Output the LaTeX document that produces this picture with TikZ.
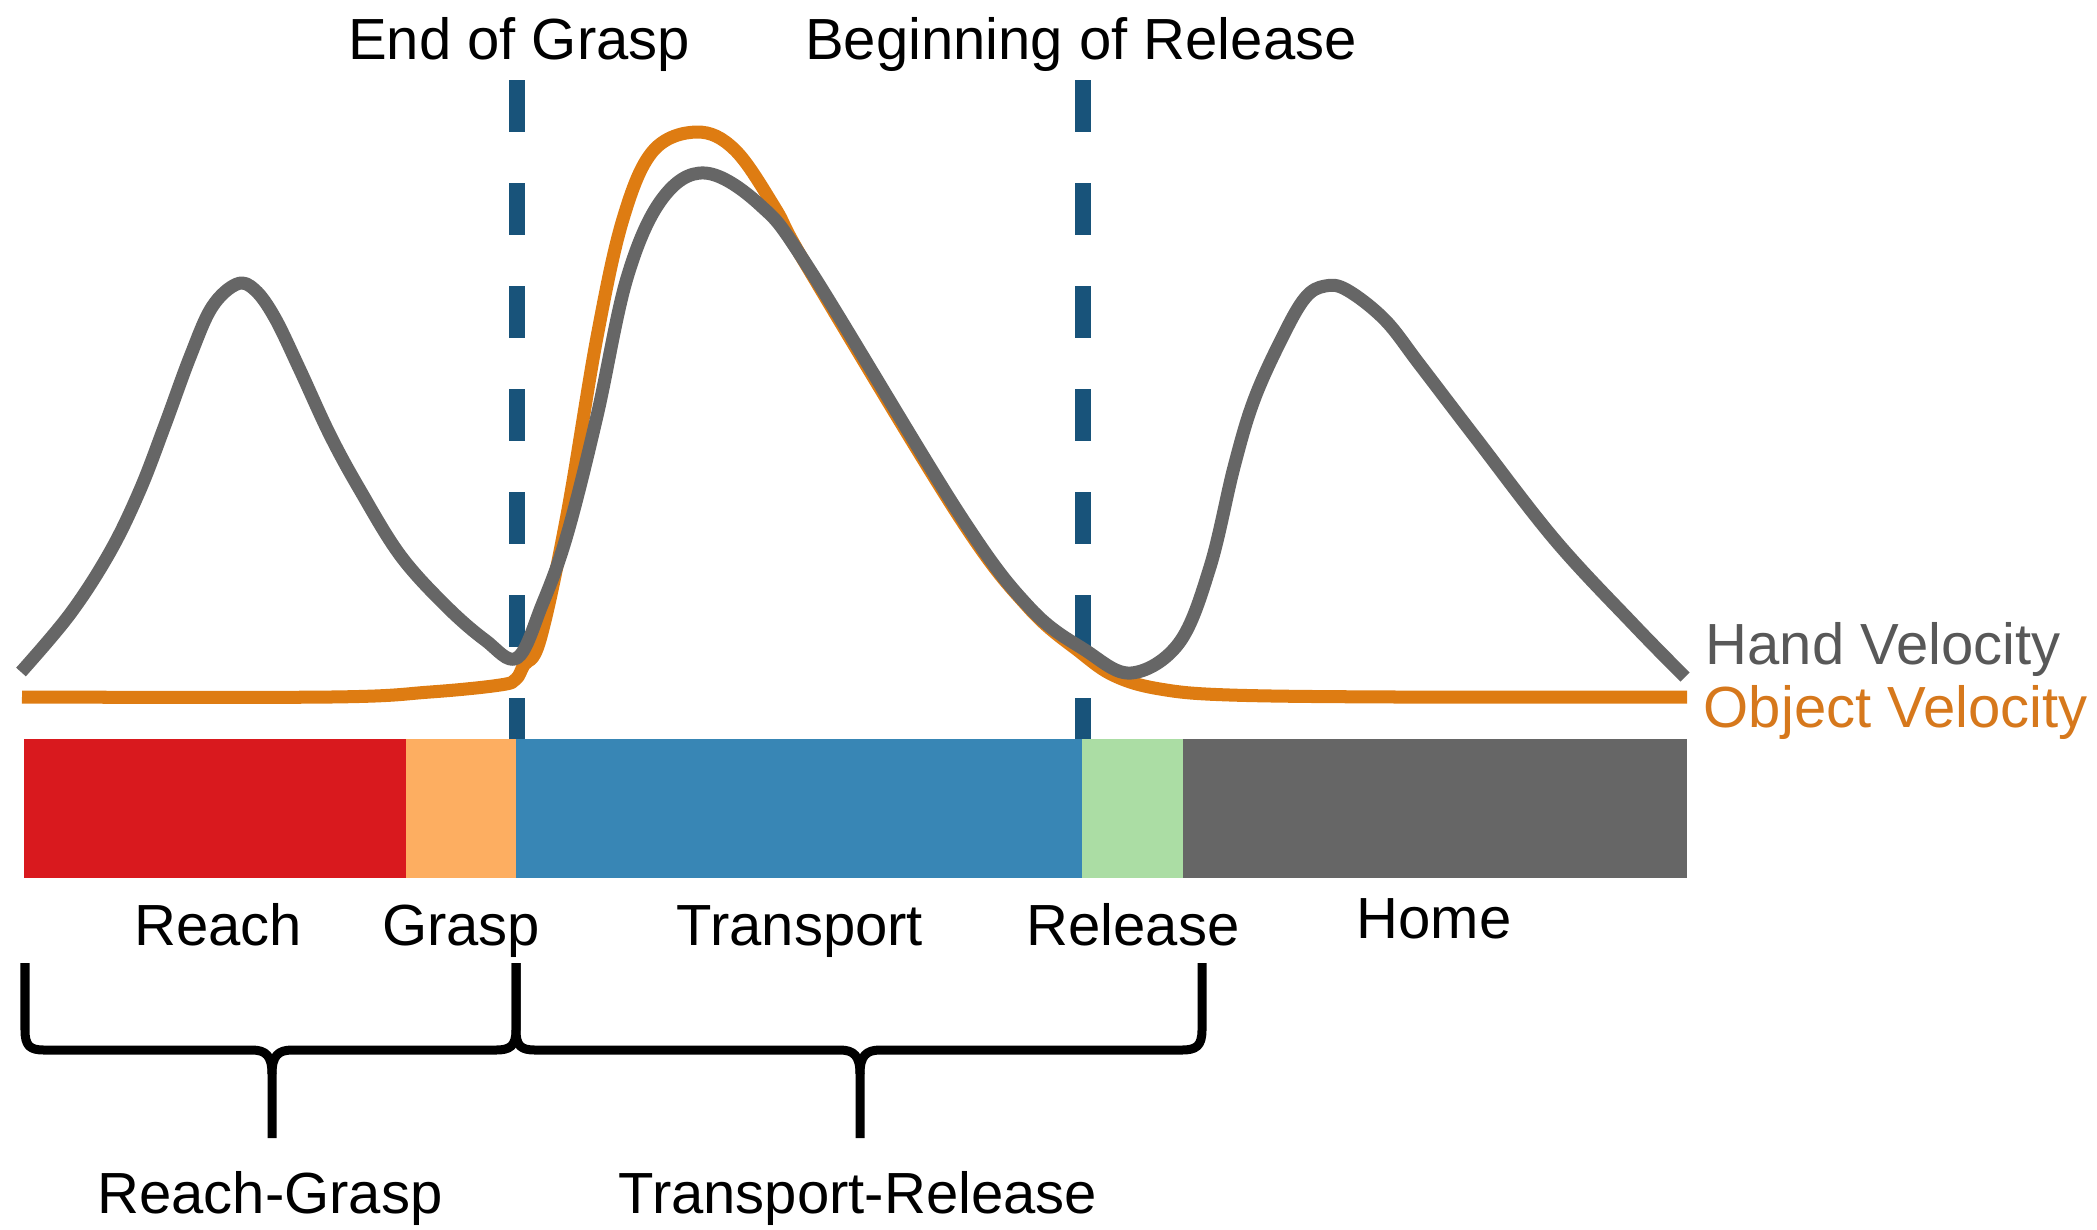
\documentclass[tikz,border=0pt]{standalone}
\usepackage{fontspec}
\setmainfont{Liberation Sans}
\definecolor{reachred}{RGB}{217,25,30}
\definecolor{graspora}{RGB}{253,174,97}
\definecolor{transblue}{RGB}{56,134,181}
\definecolor{relgreen}{RGB}{171,221,164}
\definecolor{homegray}{RGB}{102,102,102}
\definecolor{handgray}{RGB}{102,102,102}
\definecolor{objorange}{RGB}{222,124,18}
\definecolor{markblue}{RGB}{24,83,122}
\definecolor{handtext}{RGB}{88,88,88}
\definecolor{objtext}{RGB}{214,120,28}
\begin{document}
\begin{tikzpicture}[x=0.01cm,y=-0.01cm,
  lbl/.style={anchor=base,inner sep=0pt,font=\fontsize{16.5}{19}\selectfont},
  marker/.style={draw=markblue,line width=0.16cm,dash pattern=on 0.52cm off 0.51cm},
  velo/.style={line width=0.13cm,line join=round},
  brace/.style={line width=0.09cm,line join=round}]
  \useasboundingbox (0,0) rectangle (2097,1229);
  \coordinate (g0) at (517,80);
  \coordinate (g1) at (517,739);
  \coordinate (r0) at (1083,80);
  \coordinate (r1) at (1083,739);
  \draw[marker] (g0) -- (g1);
  \draw[marker] (r0) -- (r1);
  \fill[reachred] (24,739) rectangle (406,878);
  \fill[graspora] (406,739) rectangle (516,878);
  \fill[transblue] (516,739) rectangle (1082,878);
  \fill[relgreen] (1082,739) rectangle (1183,878);
  \fill[homegray] (1183,739) rectangle (1687,878);
  \draw[velo,objorange] plot[smooth,tension=0.6] coordinates {
    (22,697) (330,697) (430,692) (500,685) (516,679) (524,665) (540,640)
    (567,515) (597,337) (623,219) (653,151) (697,132) (735,150) (775,208)
    (808,268) (958,515) (1028,607) (1080,652) (1115,676) (1160,689)
    (1230,695) (1400,697) (1687,697)};
  \draw[velo,handgray] plot[smooth,tension=0.6] coordinates {
    (21,672) (70,614) (110,552) (140,490) (165,425) (190,357) (212,307)
    (237,284) (255,290) (275,318) (300,370) (330,435) (360,490) (400,555)
    (445,605) (485,640) (517,658) (542,605) (567,535) (597,416) (627,278)
    (662,199) (705,173) (760,205) (810,270) (960,515) (1030,608) (1085,650)
    (1131,673) (1179,643) (1210,567) (1234,467) (1254,400) (1282,338)
    (1305,298) (1325,286) (1347,290) (1385,320) (1420,365) (1475,437)
    (1555,540) (1634,625) (1685,677)};
  \foreach \a/\m/\b in {25/272/516,516/860/1202}{
    \draw[brace] (\a,963) -- (\a,1030) .. controls (\a,1046) and (\a+5,1050) .. (\a+19,1050)
      -- (\m-20,1050) .. controls (\m-6,1050) and (\m,1056) .. (\m,1074) -- (\m,1138);
    \draw[brace] (\m,1074) .. controls (\m,1056) and (\m+6,1050) .. (\m+20,1050)
      -- (\b-20,1050) .. controls (\b-6,1050) and (\b,1046) .. (\b,1030) -- (\b,963);
  }
  \node[lbl] (endgrasp) at (519,59) {End of Grasp};
  \node[lbl] (begrelease) at (1081,59) {Beginning of Release};
  \node[lbl,anchor=base west,text=handtext] (handvel) at (1705,664) {Hand Velocity};
  \node[lbl,anchor=base west,text=objtext] (objvel) at (1703,727) {Object Velocity};
  \node[lbl] (reach) at (218,945) {Reach};
  \node[lbl] (grasp) at (461,945) {Grasp};
  \node[lbl] (transport) at (800,945) {Transport};
  \node[lbl] (release) at (1133,945) {Release};
  \node[lbl] (home) at (1434,938) {Home};
  \node[lbl] (reachgrasp) at (270,1213) {Reach-Grasp};
  \node[lbl] (transrel) at (858,1213) {Transport-Release};
\end{tikzpicture}
\end{document}
